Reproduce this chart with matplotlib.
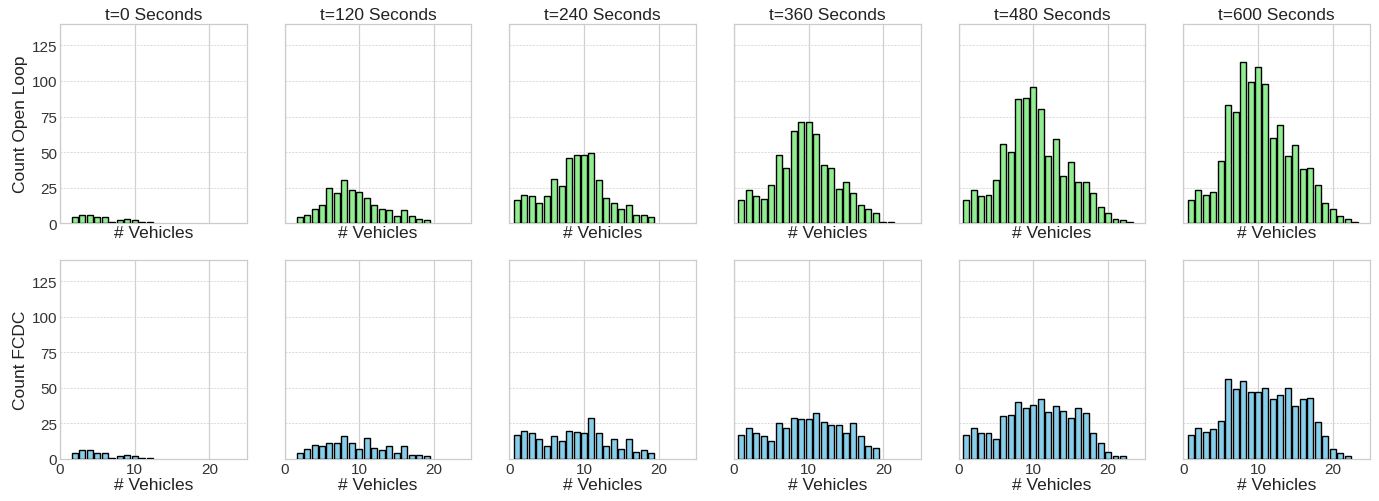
import matplotlib
matplotlib.use("Agg")
import matplotlib.pyplot as plt
import numpy as np

plt.style.use("seaborn-v0_8-whitegrid")
plt.rcParams['font.family'] = ['Liberation Sans', 'DejaVu Sans']

times = [0, 120, 240, 360, 480, 600]

# Open loop counts, starting vehicle count for each panel
open_start = [2, 2, 1, 1, 1, 1]
open_t0 = [4, 6, 6, 4, 4, 1, 2, 3, 2, 1, 1]
open_t120 = [4, 6, 10, 13, 25, 21, 30, 23, 22, 18, 13, 10, 9, 5, 9, 5, 3, 2]
open_t240 = [16, 20, 19, 14, 19, 31, 26, 46, 48, 48, 49, 30, 18, 14, 10, 13, 6, 6, 4]
open_t360 = [16, 23, 19, 17, 27, 48, 39, 65, 71, 71, 63, 41, 39, 24, 29, 21, 13, 10, 7, 1, 1]
open_t480 = [16, 23, 19, 20, 30, 56, 50, 87, 88, 96, 80, 47, 59, 33, 43, 29, 29, 21, 11, 7, 3, 2, 1]
open_t600 = [16, 23, 20, 22, 44, 83, 78, 113, 99, 110, 98, 60, 69, 47, 55, 38, 39, 27, 14, 10, 5, 3, 1]

fcdc_start = [2, 2, 1, 1, 1, 1]
fcdc_t0 = [4, 6, 6, 4, 4, 1, 2, 3, 2, 1, 1]
fcdc_t120 = [4, 7, 10, 9, 11, 11, 16, 11, 7, 15, 8, 6, 9, 4, 9, 3, 3, 2]
fcdc_t240 = [17, 20, 18, 14, 9, 16, 13, 20, 19, 18, 29, 18, 9, 14, 7, 14, 5, 6, 4]
fcdc_t360 = [17, 22, 18, 16, 13, 25, 22, 29, 28, 28, 32, 26, 24, 24, 18, 25, 16, 9, 8]
fcdc_t480 = [17, 22, 18, 18, 14, 30, 31, 40, 36, 38, 42, 33, 37, 34, 29, 36, 32, 18, 11, 5, 2, 2]
fcdc_t600 = [17, 22, 19, 21, 27, 56, 49, 55, 47, 47, 50, 42, 45, 50, 37, 42, 43, 26, 16, 7, 4, 2]

open_series = [open_t0, open_t120, open_t240, open_t360, open_t480, open_t600]
fcdc_series = [fcdc_t0, fcdc_t120, fcdc_t240, fcdc_t360, fcdc_t480, fcdc_t600]

row_labels = ["Count Open Loop", "Count FCDC"]
row_colors = ["#90EE90", "#87CEEB"]
xticks = [0, 10, 20]
yticks = [0, 25, 50, 75, 100, 125]

fig, axes = plt.subplots(2, 6, figsize=(13.79, 5.02), dpi=100, sharey=True, sharex=True)
fig.subplots_adjust(left=0.0435, right=0.9935, top=0.950, bottom=0.0837,
                    wspace=0.203, hspace=0.185)

for r, (series, starts) in enumerate([(open_series, open_start), (fcdc_series, fcdc_start)]):
    for c in range(6):
        ax = axes[r, c]
        vals = series[c]
        x = np.arange(starts[c], starts[c] + len(vals))
        ax.bar(x, vals, width=0.8, color=row_colors[r], edgecolor="black",
               linewidth=1.0, zorder=3)
        ax.set_xlim(0, 25)
        ax.set_ylim(0, 140)
        ax.set_xticks(xticks)
        ax.set_yticks(yticks)
        ax.grid(axis="x", color="#d0d0d0", linestyle="-", linewidth=0.9)
        ax.grid(axis="y", color="#d6d6d6", linestyle=(0, (2.5, 1.5)), linewidth=0.6)
        for s in ax.spines.values():
            s.set_visible(True)
            s.set_color("#cccccc")
            s.set_linewidth(0.9)
        ax.tick_params(axis="both", labelsize=11, length=0, pad=2, labelcolor="#333333")
        ax.set_xlabel("# Vehicles", fontsize=12.5, labelpad=1, color="#222222")
        ax.xaxis.set_tick_params(labelbottom=(r == 1))
        if r == 0:
            ax.set_title(f"t={times[c]} Seconds", fontsize=12.5, pad=4, color="#222222")
        if c == 0:
            ax.set_ylabel(row_labels[r], fontsize=12.5, color="#222222", labelpad=3)

fig.savefig("out.png", dpi=100)
